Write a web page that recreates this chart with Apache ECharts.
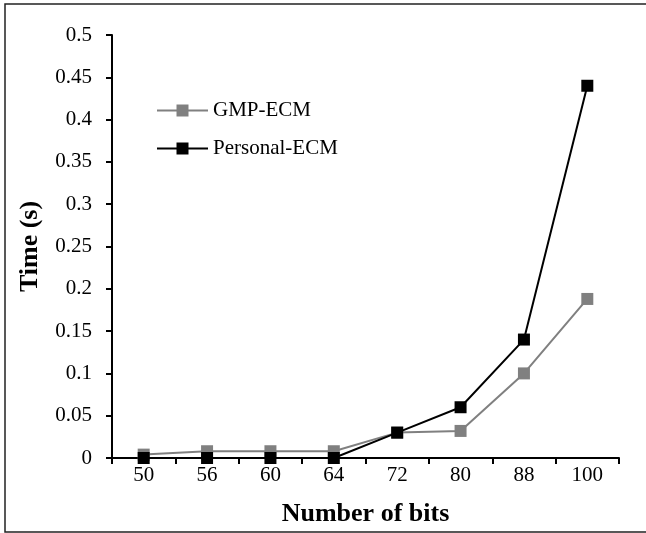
<!DOCTYPE html>
<html>
<head>
<meta charset="utf-8">
<script src="https://cdn.jsdelivr.net/npm/echarts@6/dist/echarts.min.js"></script>
<style>
html,body{margin:0;padding:0;background:#fff;}
#c{width:646px;height:533px;}
</style>
</head>
<body>
<div id="c"></div>
<script>
const categories = ['50', '56', '60', '64', '72', '80', '88', '100'];
const gmpEcm = [0.004, 0.008, 0.008, 0.008, 0.030, 0.032, 0.100, 0.188];
const personalEcm = [0.000, 0.000, 0.000, 0.000, 0.030, 0.060, 0.140, 0.440];
const yMin = 0, yMax = 0.5, yInterval = 0.05;

const FONT = '"Liberation Serif", "Times New Roman", serif';
const chart = echarts.init(document.getElementById('c'));
chart.setOption({
  animation: false,
  backgroundColor: '#fff',
  graphic: [{
    type: 'rect',
    shape: { x: 5, y: 4, width: 700, height: 528 },
    style: { fill: 'none', stroke: '#222', lineWidth: 1.5 },
    silent: true, z: -1
  }],
  grid: { left: 112, right: 27, top: 35, bottom: 75, containLabel: false },
  legend: {
    orient: 'vertical',
    left: 151,
    top: 95,
    itemWidth: 51,
    itemHeight: 15,
    itemGap: 17,
    textStyle: { fontFamily: FONT, fontSize: 21, color: '#000' },
    data: ['GMP-ECM', 'Personal-ECM']
  },
  xAxis: {
    type: 'category',
    data: categories,
    boundaryGap: true,
    name: 'Number of bits',
    nameLocation: 'middle',
    nameGap: 43,
    nameTextStyle: { fontFamily: FONT, fontSize: 26, fontWeight: 'bold', color: '#000' },
    axisLine: { lineStyle: { color: '#000', width: 2 } },
    axisTick: { show: true, inside: false, length: 6, lineStyle: { color: '#000', width: 2 } },
    axisLabel: { fontFamily: FONT, fontSize: 21, color: '#000', margin: 7 },
    splitLine: { show: false }
  },
  yAxis: {
    type: 'value',
    min: yMin, max: yMax, interval: yInterval,
    name: 'Time (s)',
    nameLocation: 'middle',
    nameGap: 69,
    nameTextStyle: { fontFamily: FONT, fontSize: 26, fontWeight: 'bold', color: '#000' },
    axisLine: { show: true, lineStyle: { color: '#000', width: 2 } },
    axisTick: { show: true, inside: false, length: 6, lineStyle: { color: '#000', width: 2 } },
    axisLabel: { fontFamily: FONT, fontSize: 21, color: '#000', margin: 20 },
    splitLine: { show: false }
  },
  series: [
    {
      name: 'GMP-ECM',
      type: 'line',
      data: gmpEcm,
      symbol: 'rect',
      symbolSize: 12,
      lineStyle: { color: '#808080', width: 2 },
      itemStyle: { color: '#808080' },
      z: 2
    },
    {
      name: 'Personal-ECM',
      type: 'line',
      data: personalEcm,
      symbol: 'rect',
      symbolSize: 12,
      lineStyle: { color: '#000', width: 2 },
      itemStyle: { color: '#000' },
      z: 3
    }
  ]
});
</script>
</body>
</html>
